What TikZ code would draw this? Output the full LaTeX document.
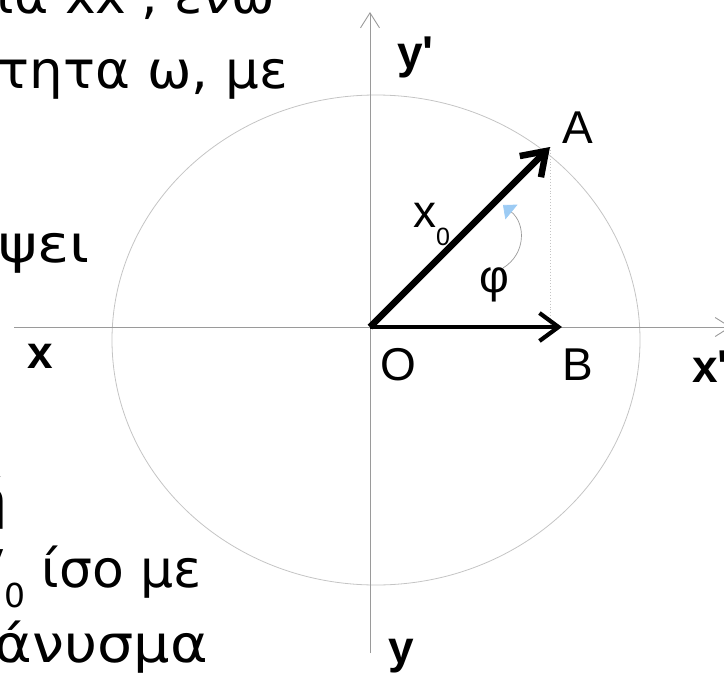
\documentclass[tikz,border=0pt]{standalone}
\usepackage{fontspec}
\setmainfont{Liberation Sans}
\newfontfamily\grtext{DejaVu Sans}
\usepackage{tikz}
\usetikzlibrary{arrows.meta,calc}
\definecolor{axisgray}{HTML}{9A9A9A}
\definecolor{circgray}{HTML}{C4C4C4}
\definecolor{tipblue}{HTML}{9CCBF4}
\newcommand\apos{\XeTeXglyph\XeTeXcharglyph"27\relax}
\newcommand\largetxt[2][1]{\scalebox{#1}[1]{#2}}
\tikzset{
  axe/.style={line width=0.9pt, draw=axisgray, -{Straight Barb[length=15pt,width=19pt]}},
  cercle/.style={line width=0.8pt, draw=circgray},
  vecA/.style={line width=6.5pt, -{Straight Barb[length=22pt,width=30pt]}},
  vecB/.style={line width=4.2pt, -{Straight Barb[length=19pt,width=28pt]}},
  proj/.style={line width=0.9pt, draw=circgray, dotted},
  arcarr/.style={line width=0.7pt, draw=axisgray, -{Triangle[length=11pt,width=19pt,fill=tipblue,color=tipblue]}},
  lbl/.style={inner sep=0pt, font=\fontsize{46}{50}\selectfont},
  lblb/.style={inner sep=0pt, font=\fontsize{46}{50}\selectfont\bfseries},
  ligne/.style={inner sep=0pt, anchor=base east, font=\fontsize{52}{60}\selectfont\grtext},
}
\begin{document}
\begin{tikzpicture}[x=1pt,y=-1pt]
    \clip (0,0) rectangle (724,673);
    \coordinate (O) at (370,327);
    \coordinate (A) at (550,147);
    \coordinate (B) at (550,327);
    \coordinate (Bt) at (562,327);
    \coordinate (xg) at (14,327);
    \coordinate (xd) at (731,327);
    \coordinate (yb) at (370,653);
    \coordinate (yh) at (370,12);
    \coordinate (phs) at (503,268);
    \coordinate (phe) at (503,205);
    \draw[cercle] (376,340) ellipse [x radius=264pt, y radius=245pt];
    \draw[axe] (xg) -- (xd);
    \draw[axe] (yb) -- (yh);
    \draw[proj] (A) -- (B);
    \draw[vecB] (O) -- (Bt);
    \draw[vecA] (O) -- (A);
    \draw[arcarr] (phs) .. controls (526,254) and (526,224) .. (phe);
    \node[lblb, anchor=base west] (ly1) at (397,68) {y\apos};
    \node[lbl, anchor=base west] (lA) at (562,143) {A};
    \node[lbl, anchor=base west] (lx0) at (413,227) {x\raisebox{-18pt}{\fontsize{25}{25}\selectfont 0}};
    \node[lbl, anchor=base west] (lphi) at (479,292) {φ};
    \node[lblb, anchor=base west] (lx) at (27,368) {x};
    \node[lbl, anchor=base] (lO) at (398,380) {O};
    \node[lbl, anchor=base] (lB) at (578,380) {B};
    \node[lblb, anchor=base west] (lx1) at (692,382) {x\apos};
    \node[lblb, anchor=base west] (ly) at (388,663) {y};
    \node[ligne] (t1) at (275,13) {\largetxt{ευθεία xx\apos, ενώ}};
    \node[ligne] (t2) at (288,88) {\largetxt[1.02]{γωνιακή ταχύτητα ω, με}};
    \node[ligne] (t3) at (90,262) {\largetxt[1.14]{διαγράψει}};
    \node[ligne] (t4) at (8,518) {\largetxt{προβολή}};
    \node[ligne] (t5) at (202,587) {\largetxt{μέτρο V\raisebox{-20pt}{\fontsize{33}{33}\selectfont 0} ίσο με}};
    \node[ligne] (t6) at (208,662) {\largetxt[1.1]{το διάνυσμα}};
\end{tikzpicture}
\end{document}
